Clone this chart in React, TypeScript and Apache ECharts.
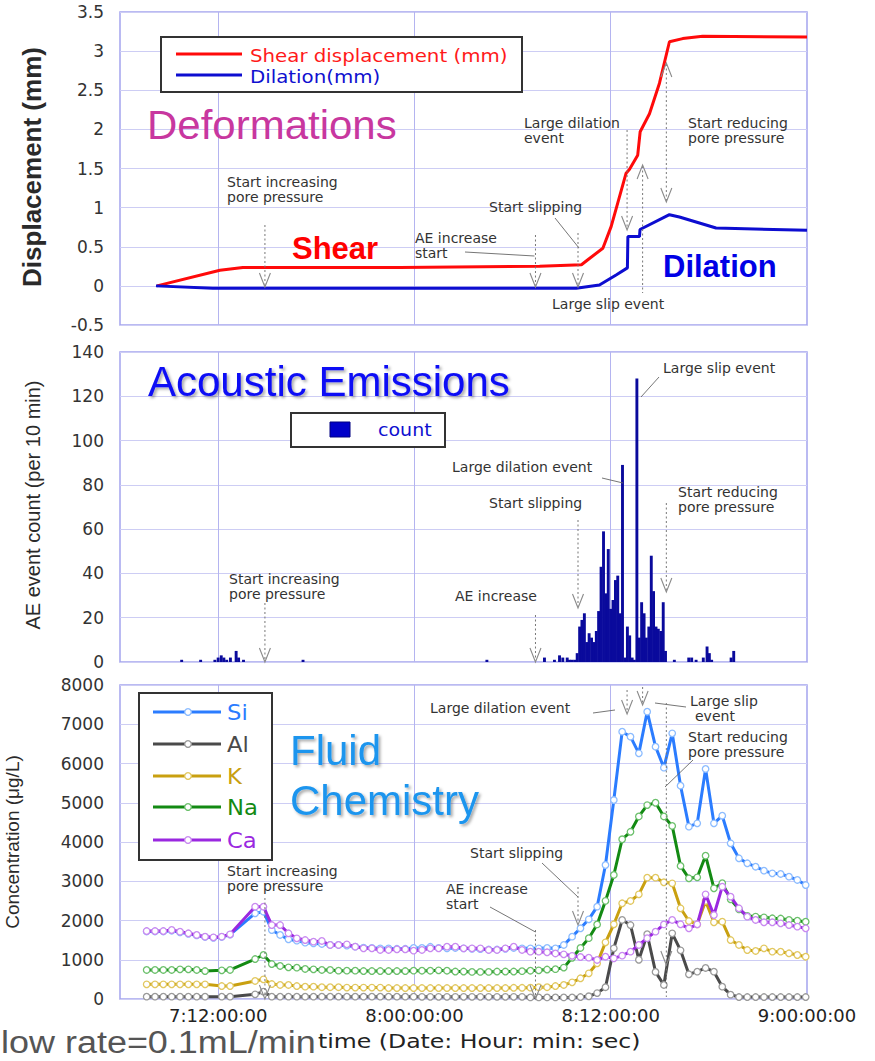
import React, { useEffect, useRef } from 'react';
import * as echarts from 'echarts';

// ---------- time axis (hours since day 7, 00:00) ----------
const xTickHours = [12, 24, 36, 48];
const xTickLabels = ['7:12:00:00', '8:00:00:00', '8:12:00:00', '9:00:00:00'];
const gridHours = [12, 24, 36];

// ---------- Deformations ----------
const shearTime = [8.26, 12.11, 13.51, 23.1, 31.65, 34.21, 34.7, 35.52, 36.03, 36.94, 37.15, 37.65, 37.8, 38.37, 38.98, 39.59, 40.4, 41.62, 48];
const shearMM = [0, 0.2, 0.235, 0.235, 0.25, 0.27, 0.35, 0.48, 0.76, 1.44, 1.49, 1.67, 1.97, 2.2, 2.59, 3.12, 3.16, 3.19, 3.18];
const dilationTime = [8.2, 11.68, 33.89, 35.31, 36.33, 37.02, 37.05, 37.76, 37.79, 39.59, 40.2, 42.44, 48];
const dilationMM = [0, -0.03, -0.03, 0.01, 0.14, 0.23, 0.63, 0.63, 0.72, 0.91, 0.88, 0.74, 0.71];

// ---------- Acoustic emissions ----------
const aeTime = [
  9.77, 10.93, 11.8, 12.0, 12.19, 12.35, 12.52, 12.75, 13.1, 13.25, 13.55, 17.19, 28.43,
  31.95, 32.56, 32.87, 33.07, 33.34, 33.48, 33.62, 33.79,
  33.95, 34.1, 34.24, 34.39, 34.53, 34.68, 34.83, 34.97, 35.12, 35.26, 35.41, 35.56, 35.7,
  35.85, 35.99, 36.14, 36.29, 36.43, 36.58, 36.72, 36.87, 37.02, 37.16, 37.31, 37.45, 37.6,
  37.75, 37.89, 38.04, 38.18, 38.33, 38.48, 38.62, 38.77, 38.91, 39.06, 39.21, 39.35,
  39.89, 40.77, 40.95, 41.22, 41.66, 41.89, 42.03, 42.17, 43.36, 43.52,
];
const aeCount = [
  1, 1, 1, 2, 3, 2, 1, 2, 5, 2, 1, 1, 1,
  2, 1, 3, 2, 2, 1, 1, 1,
  4, 16, 19, 22, 9, 13, 11, 9, 14, 23, 43, 59, 31,
  51, 24, 28, 37, 39, 22, 89, 2, 16, 12, 2, 1, 128,
  11, 27, 22, 11, 16, 48, 32, 16, 15, 14, 27, 5,
  1, 2, 2, 1, 2, 7, 4, 1, 2, 5,
];

// ---------- Fluid chemistry (µg/L), sampled about every 30 min ----------
const chemStartHour = 7.63;
const chemStepHour = 0.51;
const si = [
  1720, 1720, 1720, 1740, 1700, 1660, 1620, 1580, 1560, 1580, 1640, null, null,
  2183, 2225, 1758, 1631, 1520, 1486, 1436, 1418, 1402, 1376, 1376, 1359, 1333, 1310, 1300, 1290, 1290, 1280, 1280, 1300,
  1300, 1330, 1300, 1290, 1300, 1290, 1280, 1270, 1260, 1260, 1280, 1300, 1290,
  1290, 1290, 1300, 1291, 1376, 1588, 1801, 2030, 2352, 3414, 5070, 6811, 6683, 6259, 7320, 6429, 5894, 6768,
  5435, 4391, 4476, 5860, 4476, 4670, 3967, 3585, 3457, 3371, 3270, 3202, 3185, 3117, 3032, 2904,
];
const al = [
  59, 59, 59, 59, 59, 59, 59, 59, null, 59, 59, null, null,
  119, 187, 59, 59, 59, 59, 59, 59, 59, 59, 59, 59, 59, 59, 59, 59, 59, 59, 59, 59,
  55, 55, 55, 55, 55, 55, 55, 55, 55, 55, 55, 55, 55,
  40, 40, 40, 40, 40, 40, 50, 70, 150, 300, 1291, 2013, 1885, 1000, 1650, 690, 357, 1673,
  1240, 630, 696, 790, 696, 314, 110, 50, 50, 50, 50, 50, 50, 50, 50, 50,
];
const kk = [
  374, 374, 374, 374, 374, 374, 374, 374, null, 331, 331, null, null,
  459, 501, 382, 357, 357, 331, 314, 314, 300, 300, 300, 290, 290, 290, 290, 290, 280, 280, 280, 280,
  280, 280, 280, 280, 280, 280, 280, 280, 280, 280, 280, 285, 285,
  289, 300, 300, 330, 357, 425, 527, 654, 909, 1444, 1903, 2438, 2497, 2667, 3091, 3091, 2973, 2947,
  2311, 1987, 1903, 2497, 1954, 1970, 1503, 1376, 1248, 1223, 1291, 1206, 1206, 1164, 1121, 1078,
];
const na = [
  739, 739, 739, 739, 756, 756, 739, 713, null, 730, 739, null, null,
  1019, 1121, 891, 841, 807, 799, 765, 756, 739, 739, 722, 722, 722, 713, 713, 713, 713, 713, 713, 722,
  720, 720, 730, 720, 700, 700, 690, 690, 690, 700, 700, 700, 710,
  720, 730, 750, 760, 800, 1050, 1300, 1550, 1900, 2500, 3160, 4070, 4260, 4650, 4940, 5000, 4650, 4410,
  3390, 3075, 3100, 3650, 2820, 2950, 2540, 2285, 2115, 2100, 2080, 2056, 2050, 2013, 1995, 1970,
];
const ca = [
  1732, 1732, 1732, 1758, 1716, 1674, 1631, 1588, 1571, 1588, 1648, null, null,
  2352, 2352, 1885, 1885, 1674, 1546, 1503, 1461, 1478, 1376, 1376, 1393, 1333, 1291, 1291, 1249, 1249, 1266, 1266, 1232,
  1250, 1291, 1291, 1333, 1333, 1291, 1291, 1291, 1250, 1250, 1291, 1333, 1250,
  1206, 1206, 1190, 1160, 1138, 1100, 1070, 1053, 994, 1078, 1036, 1104, 1206, 1376, 1550, 1716, 1900, 2013,
  1903, 1801, 1903, 2667, 2140, 2862, 2607, 2311, 2098, 2013, 1954, 1954, 1928, 1885, 1843, 1801,
];

const chemSeries = [
  { name: 'Si', data: si, color: '#2b7cff', light: '#8cbcff' },
  { name: 'Al', data: al, color: '#4a4a4a', light: '#9a9a9a' },
  { name: 'K', data: kk, color: '#c9a010', light: '#e2c860' },
  { name: 'Na', data: na, color: '#138a13', light: '#6cc06c' },
  { name: 'Ca', data: ca, color: '#9a28e0', light: '#c98af0' },
];

// event times (hours)
const eventHour = { poreUp: 14.86, aeStart: 31.4, slipStart: 34.0, dilation: 37.0, slip: 37.95, poreDown: 39.4 };

const FONT = '"DejaVu Sans", sans-serif';
const ARIAL = '"Liberation Sans", Arial, sans-serif';

const pair = (t: number[], v: number[]) => t.map((x, i) => [x, v[i]]);

function buildOption(): any {
  const gridBase = { left: 120, width: 687, show: true, borderColor: '#a4a4ee', borderWidth: 1.5 };
  const split = { show: true, lineStyle: { color: '#cdcdf4', width: 1 } };
  const yLabel = { color: '#333', fontFamily: FONT, fontSize: 17, margin: 16 };
  const vLines = (color: string) => ({
    silent: true,
    symbol: ['none', 'none'],
    label: { show: false },
    z: 1,
    lineStyle: { color, width: 1, type: 'solid' },
    data: gridHours.map((h) => ({ xAxis: h })),
  });
  return {
    animation: false,
    backgroundColor: '#ffffff',
    textStyle: { fontFamily: FONT },
    grid: [
      { ...gridBase, top: 12, height: 313 },
      { ...gridBase, top: 352, height: 310 },
      { ...gridBase, top: 685, height: 314 },
    ],
    xAxis: [0, 1, 2].map((g) => ({
      type: 'value',
      gridIndex: g,
      min: 6,
      max: 48,
      interval: 6,
      axisLine: { show: false },
      axisTick: { show: false },
      splitLine: { show: false },
      axisLabel:
        g === 2
          ? {
              show: true,
              margin: 7,
              color: '#222',
              fontFamily: FONT,
              fontSize: 18,
              formatter: (v: number) => {
                const j = xTickHours.indexOf(Math.round(v));
                return j >= 0 ? xTickLabels[j] : '';
              },
            }
          : { show: false },
    })),
    yAxis: [
      { type: 'value', gridIndex: 0, min: -0.5, max: 3.5, interval: 0.5, axisLabel: yLabel, splitLine: split, axisLine: { show: false }, axisTick: { show: false } },
      { type: 'value', gridIndex: 1, min: 0, max: 140, interval: 20, axisLabel: yLabel, splitLine: split, axisLine: { show: false }, axisTick: { show: false } },
      {
        type: 'value', gridIndex: 2, min: 0, max: 8000, interval: 1000,
        axisLabel: { ...yLabel, formatter: (v: number) => String(v) },
        splitLine: split, axisLine: { show: false }, axisTick: { show: false },
      },
    ],
    series: [
      {
        name: 'Shear displacement (mm)', type: 'line', xAxisIndex: 0, yAxisIndex: 0,
        data: pair(shearTime, shearMM), showSymbol: false, z: 3,
        lineStyle: { color: '#ff0a0a', width: 3 }, itemStyle: { color: '#ff0a0a' },
        markLine: vLines('#b4b4f0'),
      },
      {
        name: 'Dilation(mm)', type: 'line', xAxisIndex: 0, yAxisIndex: 0,
        data: pair(dilationTime, dilationMM), showSymbol: false, z: 3,
        lineStyle: { color: '#0d0dd0', width: 3 }, itemStyle: { color: '#0d0dd0' },
      },
      {
        name: 'count', type: 'bar', xAxisIndex: 1, yAxisIndex: 1,
        data: pair(aeTime, aeCount), barWidth: 2.9, z: 3,
        itemStyle: { color: '#0a0a9c' },
        markLine: vLines('#b4b4f0'),
      },
      ...chemSeries.map((s, idx) => ({
        name: s.name, type: 'line', xAxisIndex: 2, yAxisIndex: 2, z: 3 + idx,
        data: s.data.map((v, i) => [chemStartHour + i * chemStepHour, v === null ? '-' : v]),
        connectNulls: true,
        symbol: 'circle', symbolSize: 6.5, showAllSymbol: true,
        lineStyle: { color: s.color, width: 3 },
        itemStyle: { color: '#ffffff', borderColor: s.light, borderWidth: 1.3 },
        ...(idx === 0 ? { markLine: vLines('#b4b4f0') } : {}),
      })),
    ],
  };
}

function buildGraphic(X: (h: number) => number): any[] {
  const els: any[] = [];
  const Z = 100;
  const note = (x: number, y: number, text: string) =>
    els.push({
      type: 'text', x, y: y - 7.5, z: Z, silent: true,
      style: { text, fill: '#333', fontSize: 14, fontFamily: FONT, align: 'left', verticalAlign: 'top', lineHeight: 15 },
    });
  const txt = (x: number, y: number, text: string, o: any) =>
    els.push({
      type: 'text', x, y, z: Z, silent: true, scaleX: o.scaleX || 1,
      style: {
        text, fill: o.fill, fontSize: o.size, fontFamily: o.family || ARIAL, fontWeight: o.weight || 'normal',
        align: 'left', verticalAlign: 'middle',
        ...(o.shadow ? { shadowColor: 'rgba(0,0,0,0.35)', shadowBlur: 3, shadowOffsetX: 2, shadowOffsetY: 2,
          textShadowColor: 'rgba(0,0,0,0.35)', textShadowBlur: 3, textShadowOffsetX: 2, textShadowOffsetY: 2 } : {}),
      },
    });
  const vtxt = (x: number, y: number, text: string, size: number, weight: string) =>
    els.push({
      type: 'text', x, y, z: Z, silent: true, rotation: Math.PI / 2,
      style: { text, fill: '#2a2a2a', fontSize: size, fontFamily: ARIAL, fontWeight: weight, align: 'center', verticalAlign: 'middle' },
    });
  const dotted = (x: number, y1: number, y2: number) =>
    els.push({ type: 'line', z: Z - 5, silent: true, shape: { x1: x, y1, x2: x, y2 }, style: { stroke: '#777', lineWidth: 1, lineDash: [2, 2.5] } });
  const vDown = (x: number, y: number) =>
    els.push({ type: 'polyline', z: Z - 5, silent: true, shape: { points: [[x - 5.5, y - 14], [x, y], [x + 5.5, y - 14]] }, style: { stroke: '#8a8a8a', lineWidth: 1.1, fill: 'none' } });
  const vUp = (x: number, y: number) =>
    els.push({ type: 'polyline', z: Z - 5, silent: true, shape: { points: [[x - 5.5, y + 14], [x, y], [x + 5.5, y + 14]] }, style: { stroke: '#8a8a8a', lineWidth: 1.1, fill: 'none' } });
  const leader = (x1: number, y1: number, x2: number, y2: number) =>
    els.push({ type: 'line', z: Z - 5, silent: true, shape: { x1, y1, x2, y2 }, style: { stroke: '#666', lineWidth: 0.9 } });
  const box = (x: number, y: number, w: number, h: number) =>
    els.push({ type: 'rect', z: Z - 10, silent: true, shape: { x, y, width: w, height: h }, style: { fill: '#fff', stroke: '#333', lineWidth: 2 } });
  const hline = (x1: number, x2: number, y: number, color: string) =>
    els.push({ type: 'line', z: Z, silent: true, shape: { x1, y1: y, x2, y2: y }, style: { stroke: color, lineWidth: 3 } });

  const pu = X(eventHour.poreUp);
  const ae = X(eventHour.aeStart);
  const ss = X(eventHour.slipStart);
  const de = X(eventHour.dilation);
  const se = X(eventHour.slip);
  const pd = X(eventHour.poreDown);

  // ----- axis titles -----
  vtxt(32, 167, 'Displacement (mm)', 26, 'bold');
  vtxt(33, 505, 'AE event count (per 10 min)', 20, 'normal');
  vtxt(12, 842, 'Concentration (\u03bcg/L)', 19, 'normal');

  // ----- panel 1 -----
  txt(147, 125, 'Deformations', { fill: '#c8379f', size: 40, scaleX: 1.05 });
  box(161, 37, 361, 55);
  hline(176, 242, 54, '#ff0a0a');
  hline(176, 242, 75, '#0d0dd0');
  txt(250, 55, 'Shear displacement (mm)', { fill: '#ff1a1a', size: 18, family: FONT, scaleX: 1.1 });
  txt(250, 76, 'Dilation(mm)', { fill: '#1010d0', size: 18, family: FONT, scaleX: 1.1 });
  note(227, 182, 'Start increasing\npore pressure');
  dotted(pu, 225, 285); vDown(pu, 287);
  txt(292, 248, 'Shear', { fill: '#ff0000', size: 31, weight: 'bold' });
  note(415, 238, 'AE increase\nstart');
  leader(465, 252, ae - 1, 256);
  dotted(ae, 235, 285); vDown(ae, 287);
  note(489, 207, 'Start slipping');
  leader(555, 218, ss + 1, 248);
  dotted(ss, 233, 285); vDown(ss, 287);
  note(524, 123, 'Large dilation\nevent');
  dotted(de, 130, 229); vDown(de, 230);
  dotted(se, 166, 293); vUp(se, 165);
  note(552, 304, 'Large slip event');
  note(688, 123, 'Start reducing\npore pressure');
  dotted(pd, 64, 201); vUp(pd, 63); vDown(pd, 202);
  txt(663, 266, 'Dilation', { fill: '#0000e6', size: 31, weight: 'bold' });

  // ----- panel 2 -----
  txt(148, 381, 'Acoustic Emissions', { fill: '#0a0af5', size: 42, shadow: true });
  box(291, 413, 154, 34);
  els.push({ type: 'rect', z: Z, silent: true, shape: { x: 330, y: 422, width: 20, height: 15 }, style: { fill: '#0000c8', stroke: '#000080', lineWidth: 1 } });
  txt(378, 430, 'count', { fill: '#1010d0', size: 17, family: FONT, scaleX: 1.12 });
  note(229, 579, 'Start increasing\npore pressure');
  dotted(pu, 603, 660); vDown(pu, 662);
  note(455, 596, 'AE increase');
  dotted(ae, 615, 660); vDown(ae, 662);
  note(489, 503, 'Start slipping');
  dotted(ss, 520, 606); vDown(ss, 608);
  note(452, 467, 'Large dilation event');
  leader(602, 478, 623, 483);
  note(663, 368, 'Large slip event');
  leader(659, 377, 641, 397);
  note(678, 492, 'Start reducing\npore pressure');
  dotted(pd, 503, 590); vDown(pd, 592);

  // ----- panel 3 -----
  box(139, 693, 133, 167);
  const ly = [712, 744, 776, 807, 840];
  chemSeries.forEach((s, i) => {
    hline(153, 221, ly[i], s.color);
    els.push({ type: 'circle', z: Z + 1, silent: true, shape: { cx: 188, cy: ly[i], r: 3.3 }, style: { fill: '#fff', stroke: s.light, lineWidth: 1.3 } });
    txt(227, ly[i] + 1, s.name, { fill: s.color, size: 21, family: FONT, scaleX: 1.08 });
  });
  txt(290, 750, 'Fluid', { fill: '#1c95ee', size: 42, shadow: true });
  txt(290, 800, 'Chemistry', { fill: '#1c95ee', size: 42, shadow: true });
  note(227, 871, 'Start increasing\npore pressure');
  dotted(pu, 898, 997); vDown(pu, 999);
  note(430, 708, 'Large dilation event');
  leader(593, 713, 615, 710);
  dotted(de, 690, 712); vDown(de, 714);
  dotted(se, 687, 704); vDown(se, 705);
  leader(655, 703, 686, 707);
  note(690, 701, 'Large slip');
  note(695, 716, 'event');
  note(688, 737, 'Start reducing\npore pressure');
  leader(693, 760, 665, 787);
  dotted(pd, 703, 997); vDown(pd, 965);
  note(470, 853, 'Start slipping');
  leader(542, 863, ss, 897);
  dotted(ss, 887, 923); vDown(ss, 925);
  note(446, 889, 'AE increase\nstart');
  leader(490, 907, ae, 932);
  dotted(ae, 930, 997); vDown(ae, 999);

  // ----- bottom -----
  txt(1, 1042, 'low rate=0.1mL/min', { fill: '#555', size: 31, scaleX: 1.16 });
  txt(318, 1041, 'time (Date: Hour: min: sec)', { fill: '#222', size: 20, family: FONT, scaleX: 1.18 });

  return els;
}

export default function App() {
  const ref = useRef<HTMLDivElement>(null);
  useEffect(() => {
    const el = ref.current;
    if (!el) return;
    const chart = echarts.init(el, null, { renderer: 'svg' });
    chart.setOption(buildOption());
    const X = (h: number) => chart.convertToPixel({ xAxisIndex: 0 }, h) as number;
    chart.setOption({ graphic: buildGraphic(X) });
    return () => chart.dispose();
  }, []);
  return (
    <div
      ref={ref}
      style={{ position: 'absolute', left: 0, top: 0, width: 875, height: 1061, background: '#fff' }}
    />
  );
}
